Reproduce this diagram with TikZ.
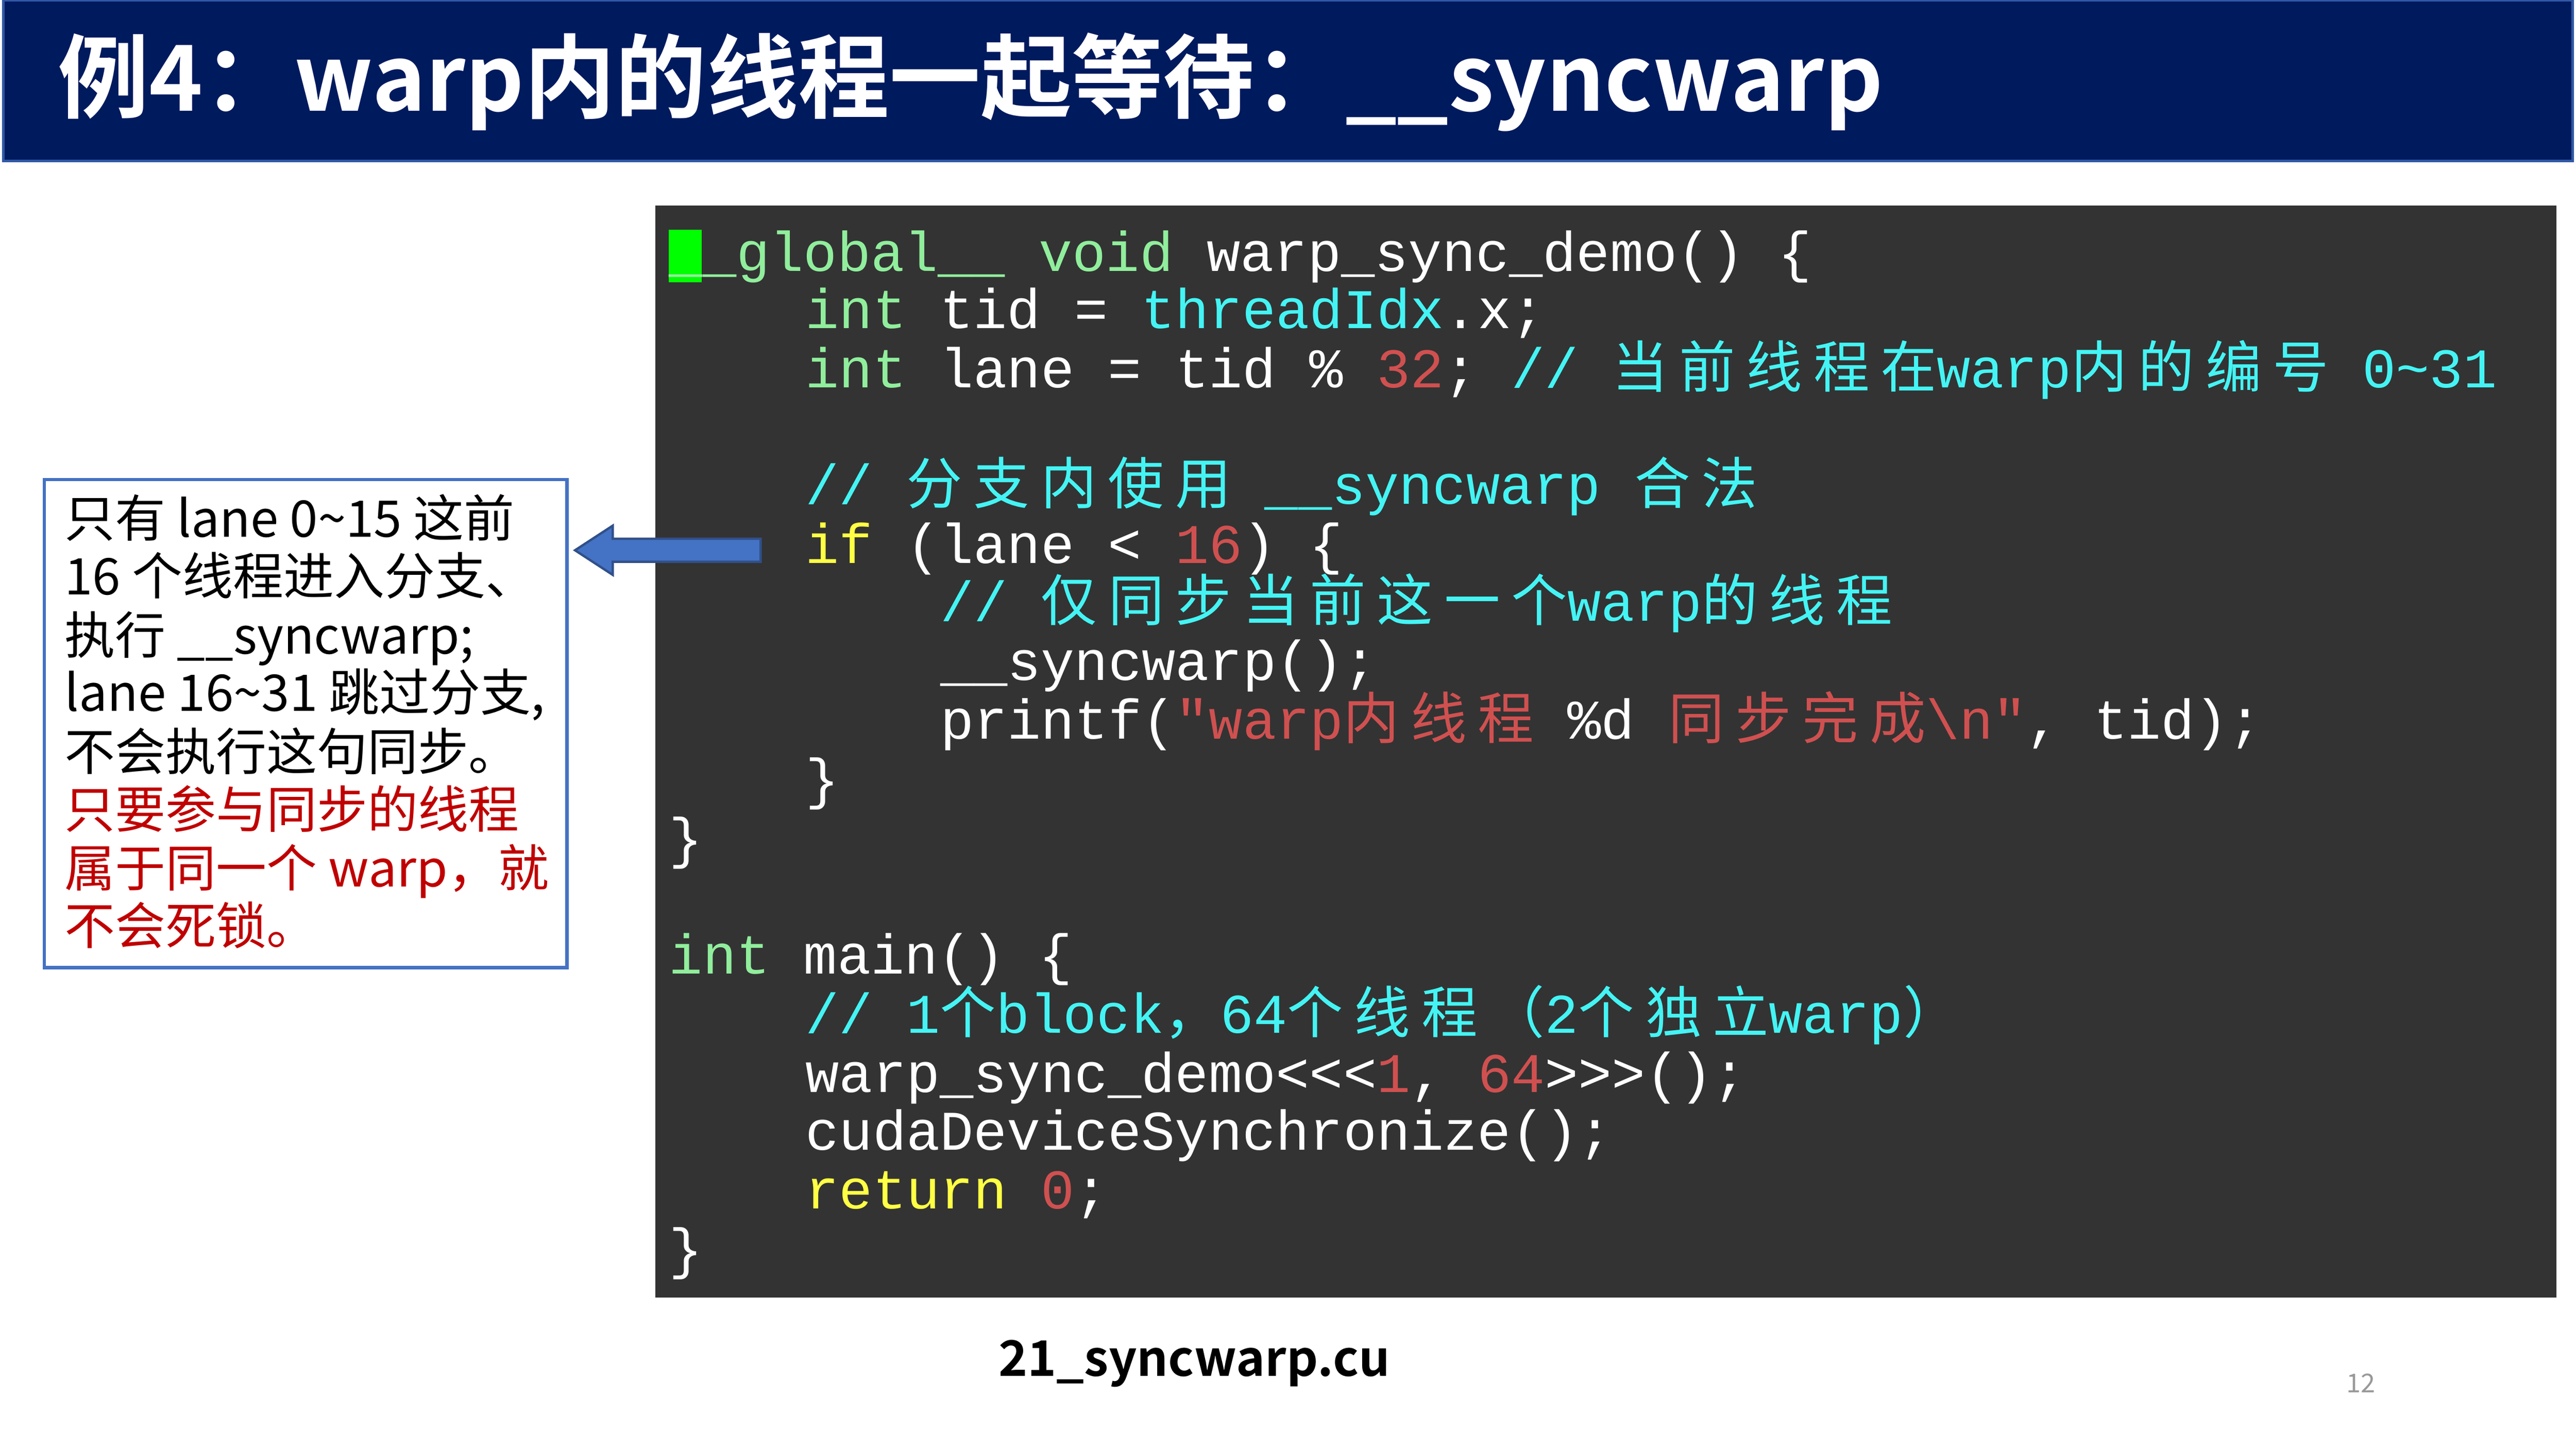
\documentclass[tikz,border=0pt]{standalone}
\usepackage{fontspec}
\setmonofont{Liberation Mono}
\newfontfamily\cjk{Noto Sans CJK SC}
\newfontfamily\cjkc[LetterSpace=20]{Noto Sans CJK SC}
\newfontfamily\cjkb{Noto Sans CJK SC Bold}
\definecolor{navy}{HTML}{001A5E}
\definecolor{codebg}{HTML}{333333}
\definecolor{kw}{HTML}{90EE9C}
\definecolor{cy}{HTML}{44F4F4}
\definecolor{rd}{HTML}{D05050}
\definecolor{yl}{HTML}{FFFF44}
\definecolor{boxblue}{HTML}{4472C4}
\definecolor{redtxt}{HTML}{C00000}
\newcommand\Kw[1]{\textcolor{kw}{#1}}
\newcommand\Cy[1]{\textcolor{cy}{#1}}
\newcommand\Rd[1]{\textcolor{rd}{#1}}
\newcommand\Yl[1]{\textcolor{yl}{#1}}
\newcommand\Zh[1]{{\fontsize{19.4}{22}\cjkc #1}}
\begin{document}
\begin{tikzpicture}[x=0.02cm,y=-0.02cm,
  codeline/.style={anchor=base west,inner sep=0pt,text=white,font=\fontsize{19.4}{22}\ttfamily},
  leftline/.style={anchor=base west,inner sep=0pt,font=\fontsize{17.5}{20}\cjk}]
\useasboundingbox (0,0) rectangle (1568,882);
\fill[white] (0,0) rectangle (1568,882);
% title
\fill[navy] (2,0) rectangle (1566,98);
\draw[boxblue!70!navy,line width=1pt] (2,0) rectangle (1566,98);
\node[anchor=west,inner sep=0pt,text=white,font=\fontsize{31.6}{36}\cjkb] (title) at (35,50) {例4：warp内的线程一起等待：\_\_syncwarp};
% code box
\fill[codebg] (399,125) rectangle (1556,790);
\fill[green] (407,140) rectangle (427,172);
\node[codeline] (l1) at (407,165) {\Kw{\_\_global\_\_} \Kw{void} warp\_sync\_demo() \{};
\node[codeline] (l2) at (490,200) {\Kw{int} tid = \Cy{threadIdx}.x;};
\node[codeline] (l3) at (490,236) {\Kw{int} lane = tid \% \Rd{32}; \Cy{// \Zh{当前线程在}warp\Zh{内的编号} 0\textasciitilde31}};
\node[codeline] (l5) at (490,307) {\Cy{// \Zh{分支内使用} \_\_syncwarp \Zh{合法}}};
\node[codeline] (l6) at (490,343) {\Yl{if} (lane < \Rd{16}) \{};
\node[codeline] (l7) at (572,378) {\Cy{// \Zh{仅同步当前这一个}warp\Zh{的线程}}};
\node[codeline] (l8) at (572,414) {\_\_syncwarp();};
\node[codeline] (l9) at (572,450) {printf(\Rd{"warp\Zh{内线程}} \%d \Rd{\Zh{同步完成}\textbackslash n"}, tid);};
\node[codeline] (l10) at (490,486) {\}};
\node[codeline] (l11) at (407,522) {\}};
\node[codeline] (l13) at (407,593) {\Kw{int} main() \{};
\node[codeline] (l14) at (490,629) {\Cy{// 1\Zh{个}block\Zh{，}64\Zh{个线程（}2\Zh{个独立}warp\Zh{）}}};
\node[codeline] (l15) at (490,665) {warp\_sync\_demo<<<\Rd{1}, \Rd{64}>>>();};
\node[codeline] (l16) at (490,700) {cudaDeviceSynchronize();};
\node[codeline] (l17) at (490,736) {\Yl{return} \Rd{0};};
\node[codeline] (l18) at (407,772) {\}};
% left box
\draw[boxblue,line width=1.2pt] (27,292) rectangle (345,589);
\node[leftline] (t1) at (39,327) {只有 lane 0\textasciitilde15 这前};
\node[leftline] (t2) at (39,362) {16 个线程进入分支、};
\node[leftline] (t3) at (39,398) {执行 \_\_syncwarp;};
\node[leftline] (t4) at (39,433) {lane 16\textasciitilde31 跳过分支,};
\node[leftline] (t5) at (39,469) {不会执行这句同步。};
\node[leftline,text=redtxt] (t6) at (39,504) {只要参与同步的线程};
\node[leftline,text=redtxt] (t7) at (39,540) {属于同一个 warp，就};
\node[leftline,text=redtxt] (t8) at (39,575) {不会死锁。};
% arrow
\filldraw[fill=boxblue,draw=boxblue!70!black,line width=0.8pt]
  (463,328) -- (373,328) -- (373,320) -- (350,335) -- (373,350) -- (373,342) -- (463,342) -- cycle;
% footer
\node[inner sep=0pt,font=\fontsize{17}{20}\cjkb] (fname) at (727,830) {21\_syncwarp.cu};
\node[inner sep=0pt,text=gray!80,font=\fontsize{9}{11}\cjk] (pg) at (1437,842) {12};
\end{tikzpicture}
\end{document}
